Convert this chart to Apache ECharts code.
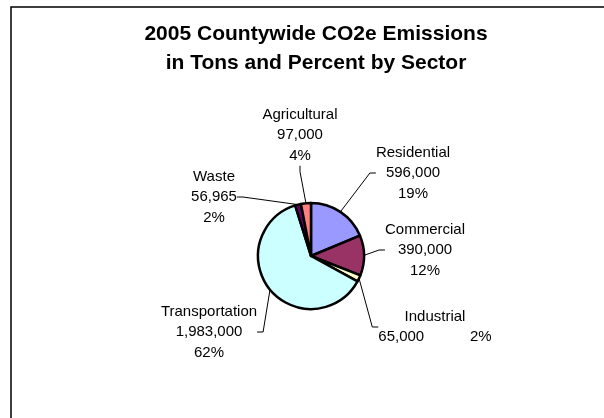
<!DOCTYPE html>
<html>
<head>
<meta charset="utf-8">
<script src="https://cdn.jsdelivr.net/npm/echarts@6/dist/echarts.min.js"></script>
<style>
  html, body { margin: 0; padding: 0; background: #fff; }
  #chart { width: 604px; height: 418px; }
</style>
</head>
<body>
<div id="chart"></div>
<script>
// sectors, clockwise from 12 o'clock
const sectors = ["Residential", "Commercial", "Industrial", "Transportation", "Waste", "Agricultural"];
const tons = [596000, 390000, 65000, 1983000, 56965, 97000];
const percentLabels = ["19%", "12%", "2%", "62%", "2%", "4%"];
const sectorColors = ["#9999FF", "#993366", "#FFFFCC", "#CCFFFF", "#660066", "#FF8080"];

// where each label block sits (centre of the text block)
const labelSpots = {
  Residential: [413, 173],
  Commercial: [425, 250],
  Industrial: [435, 327],
  Transportation: [209, 332],
  Waste: [214, 197],
  Agricultural: [300, 135],
};

const myChart = echarts.init(document.getElementById("chart"));

const option = {
  backgroundColor: "#fff",
  animation: false,
  title: {
    text: "2005 Countywide CO2e Emissions\nin Tons and Percent by Sector",
    left: 311,
    top: 15,
    textAlign: "center",
    textStyle: {
      fontFamily: "Liberation Sans, Arial, sans-serif",
      fontWeight: "bold",
      fontSize: 21,
      lineHeight: 29,
      color: "#000",
    },
  },
  graphic: [
    {
      type: "rect",
      shape: { x: 11, y: 7, width: 800, height: 800 },
      style: { fill: "none", stroke: "#000", lineWidth: 1.5 },
      silent: true,
    },
  ],
  series: [
    {
      type: "pie",
      center: [311, 256],
      radius: 53,
      startAngle: 90,
      clockwise: true,
      data: sectors.map((name, i) => ({
        name: name,
        value: tons[i],
        itemStyle: { color: sectorColors[i] },
      })),
      itemStyle: { borderColor: "#000", borderWidth: 2.5 },
      label: {
        show: true,
        color: "#000",
        fontFamily: "Liberation Sans, Arial, sans-serif",
        fontSize: 15,
        lineHeight: 20.5,
        align: "center",
        formatter: (p) => {
          const i = p.dataIndex;
          const val = tons[i].toLocaleString("en-US");
          // Industrial keeps value and percent on one line
          const sep = p.name === "Industrial" ? "           " : "\n";
          return p.name + "\n" + val + sep + percentLabels[i];
        },
      },
      labelLine: {
        show: true,
        length: 10,
        length2: 6,
        lineStyle: { color: "#000", width: 1 },
      },
      labelLayout: (params) => {
        const name = sectors[params.dataIndex];
        const spot = labelSpots[name];
        return {
          x: spot[0],
          y: spot[1],
          align: "center",
          verticalAlign: "middle",
        };
      },
    },
  ],
};

myChart.setOption(option, true);
</script>
</body>
</html>
